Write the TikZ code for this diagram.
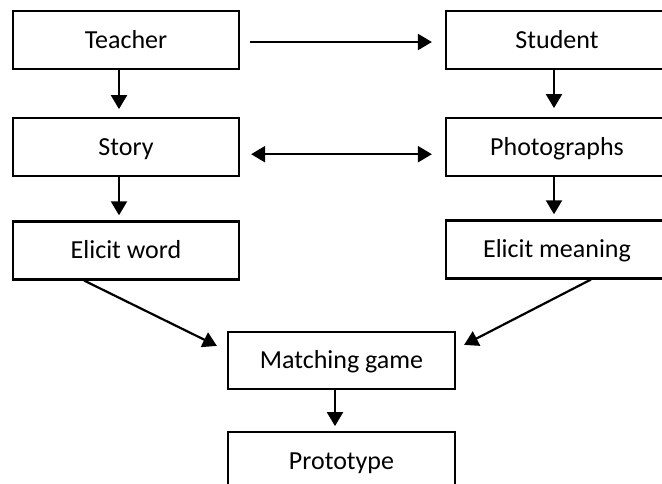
\documentclass[tikz,border=0pt]{standalone}
\usepackage{fontspec}
\setmainfont{Carlito}
\usetikzlibrary{arrows.meta, positioning}

\begin{document}
\begin{tikzpicture}[
    x=1pt, y=-1pt,
    every node/.style={font=\fontsize{26}{30}\selectfont},
    stage/.style={draw, line width=2.2pt, minimum width=226pt, minimum height=58pt, inner sep=0pt, text height=22pt, text depth=5.2pt},
    arrow/.style={-{Triangle[length=14pt, width=16pt]}, line width=2.2pt},
    twoway/.style={{Triangle[length=14pt, width=16pt]}-{Triangle[length=14pt, width=16pt]}, line width=2.2pt}
]
    \useasboundingbox (0,0) rectangle (662,483);
    \clip (0,0) rectangle (662,483);

    % Left column
    \node[stage] (teacher) at (126,40) {Teacher};
    \node[stage, below=47pt of teacher] (story) {Story};
    \node[stage, below=43pt of story] (word) {Elicit word};

    % Right column
    \node[stage, minimum width=222pt] (student) at (557,40) {Student};
    \node[stage, minimum width=222pt, below=47pt of student] (photos) {Photographs};
    \node[stage, minimum width=222pt, below=42pt of photos] (meaning) {Elicit meaning};

    % Bottom
    \node[stage, minimum width=227pt, minimum height=57pt] (game) at (341.5,360.5) {Matching game};
    \node[stage, minimum width=227pt, minimum height=57pt, below=41pt of game] (proto) {Prototype};

    % Arrows
    \draw[arrow, shorten <=10pt, shorten >=13pt] ([yshift=-2pt]teacher.east) -- ([yshift=-2pt]student.west);
    \draw[twoway, shorten <=11pt, shorten >=13pt] ([yshift=-7pt]story.east) -- ([yshift=-7pt]photos.west);
    \draw[arrow, shorten >=8pt] ([xshift=-7pt]teacher.south) -- ([xshift=-7pt]story.north);
    \draw[arrow, shorten >=5pt] ([xshift=-7pt]story.south) -- ([xshift=-7pt]word.north);
    \draw[arrow, shorten >=9pt] ([xshift=-3pt]student.south) -- ([xshift=-3pt]photos.north);
    \draw[arrow, shorten >=5pt] ([xshift=-3pt]photos.south) -- ([xshift=-3pt]meaning.north);
    \draw[arrow] ([xshift=-42pt]word.south) -- ([xshift=-10pt, yshift=-15pt]game.north west);
    \draw[arrow] ([xshift=34pt]meaning.south) -- ([xshift=8pt, yshift=-14pt]game.north east);
    \draw[arrow, shorten >=5pt] ([xshift=-6.5pt]game.south) -- ([xshift=-6.5pt]proto.north);
\end{tikzpicture}
\end{document}
